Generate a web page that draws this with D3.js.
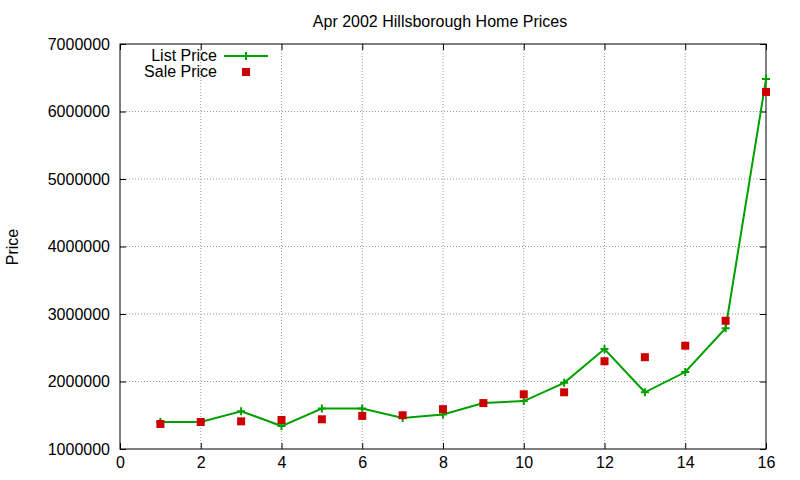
<!DOCTYPE html><html><head><meta charset="utf-8"><script src="https://cdn.jsdelivr.net/npm/d3@7"></script>
<style>body{margin:0;background:#fff}text{font-family:"Liberation Sans",Arial,sans-serif}</style></head><body>
<svg id="c" width="800" height="480"></svg>
<script>
const xs=[1,2,3,4,5,6,7,8,9,10,11,12,13,14,15,16];
const listPrice=[1400000,1400000,1560000,1340000,1600000,1600000,1460000,1510000,1680000,1710000,1980000,2480000,1840000,2140000,2790000,6480000];
const salePrice=[1370000,1400000,1410000,1430000,1440000,1490000,1500000,1590000,1680000,1810000,1840000,2300000,2360000,2530000,2900000,6290000];
const xTicks=[0,2,4,6,8,10,12,14,16];
const yTicks=[1000000,2000000,3000000,4000000,5000000,6000000,7000000];
const svg=d3.select("#c");
const L=120,R=766,T=44,B=449;
const x=d3.scaleLinear().domain([0,16]).range([L,R]);
const y=d3.scaleLinear().domain([1000000,7000000]).range([B,T]);
const g=svg.append("g");
g.selectAll(".gx").data(xTicks.slice(1,-1)).join("line").attr("x1",d=>x(d)).attr("x2",d=>x(d)).attr("y1",T).attr("y2",B).attr("stroke","#999").attr("stroke-dasharray","1,2");
g.selectAll(".gy").data(yTicks.slice(1,-1)).join("line").attr("y1",d=>y(d)).attr("y2",d=>y(d)).attr("x1",L).attr("x2",R).attr("stroke","#999").attr("stroke-dasharray","1,2");
svg.append("g").attr("transform",`translate(0,${B})`).call(d3.axisBottom(x).tickValues(xTicks).tickSize(-6).tickPadding(8)).call(a=>{a.select(".domain").remove();a.selectAll("text").attr("font-size",16).attr("fill","#000")});
svg.append("g").attr("transform",`translate(0,${T})`).call(d3.axisTop(x).tickValues(xTicks).tickSize(-6).tickFormat("")).call(a=>a.select(".domain").remove());
svg.append("g").attr("transform",`translate(${L},0)`).call(d3.axisLeft(y).tickValues(yTicks).tickSize(-6).tickPadding(10).tickFormat(d3.format("d"))).call(a=>{a.select(".domain").remove();a.selectAll("text").attr("font-size",16).attr("fill","#000")});
svg.append("g").attr("transform",`translate(${R},0)`).call(d3.axisRight(y).tickValues(yTicks).tickSize(-6).tickFormat("")).call(a=>a.select(".domain").remove());
svg.append("rect").attr("x",L).attr("y",T).attr("width",R-L).attr("height",B-T).attr("fill","none").attr("stroke","#000");
svg.append("text").attr("x",440).attr("y",27).attr("text-anchor","middle").attr("font-size",16).text("Apr 2002 Hillsborough Home Prices");
svg.append("text").attr("transform","translate(18,247) rotate(-90)").attr("text-anchor","middle").attr("font-size",16).text("Price");
const green="#00a000",red="#cc0000";
const line=d3.line().x((d,i)=>x(xs[i])).y(d=>y(d));
svg.append("path").attr("d",line(listPrice)).attr("fill","none").attr("stroke",green).attr("stroke-width",2);
const plus=(sel,cx,cy)=>sel.append("path").attr("d",`M${cx-4},${cy}H${cx+4}M${cx},${cy-4}V${cy+4}`).attr("stroke",green).attr("stroke-width",2);
listPrice.forEach((v,i)=>plus(svg,x(xs[i]),y(v)));
svg.selectAll(".s").data(salePrice).join("rect").attr("x",(d,i)=>x(xs[i])-4).attr("y",d=>y(d)-4).attr("width",8).attr("height",8).attr("fill",red);
svg.append("text").attr("x",217).attr("y",61).attr("text-anchor","end").attr("font-size",16).text("List Price");
svg.append("line").attr("x1",224).attr("x2",268).attr("y1",56).attr("y2",56).attr("stroke",green).attr("stroke-width",2);
plus(svg,246,56);
svg.append("text").attr("x",217).attr("y",77).attr("text-anchor","end").attr("font-size",16).text("Sale Price");
svg.append("rect").attr("x",242).attr("y",68).attr("width",8).attr("height",8).attr("fill",red);
</script></body></html>
